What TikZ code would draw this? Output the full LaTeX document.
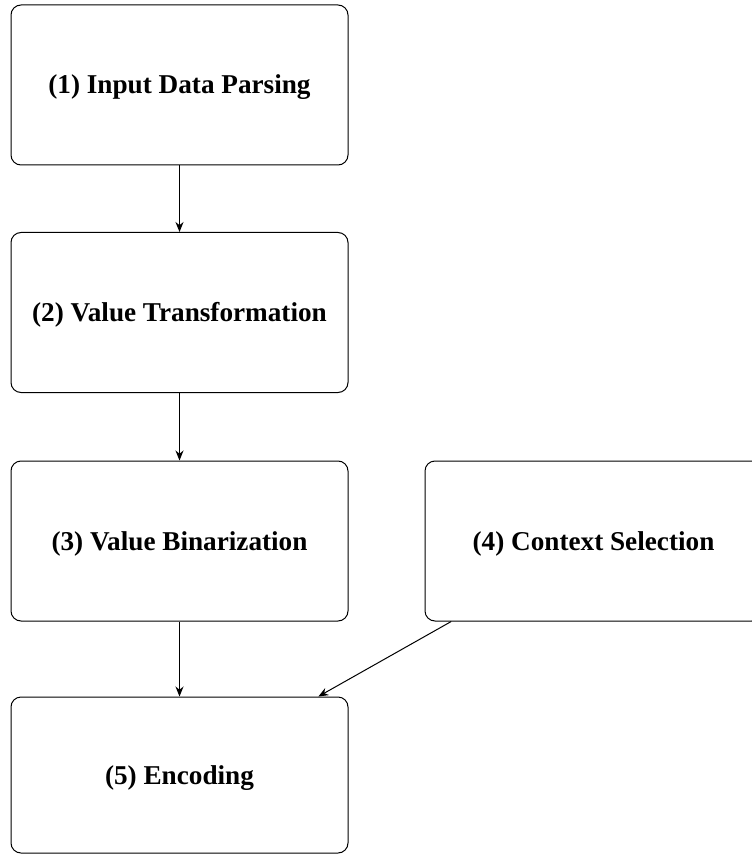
\documentclass[tikz,border=0pt]{standalone}
\usepackage{fontspec}
\setmainfont{Liberation Serif}
\usetikzlibrary{arrows.meta}
\begin{document}
\begin{tikzpicture}[x=0.5pt,y=-0.5pt,
  stagebox/.style={draw, line width=0.5pt, rounded corners=5pt, minimum width=168.5pt, minimum height=80pt, inner sep=0pt, text height=9pt, text depth=-1.5pt, font=\fontsize{13.6}{16}\selectfont\bfseries},
  flow/.style={-{Stealth[length=5pt,width=4pt]}, line width=0.5pt}]
\useasboundingbox (0,0) rectangle (751,855);
\node[stagebox] (s1) at (179.5,85) {(1) Input Data Parsing};
\node[stagebox] (s2) at (179.5,312.5) {(2) Value Transformation};
\node[stagebox] (s3) at (179.5,541) {(3) Value Binarization};
\node[stagebox] (s4) at (593.5,541) {(4) Context Selection};
\node[stagebox, minimum height=78pt] (s5) at (179.5,775) {(5) Encoding};
\draw[flow] (s1) -- (s2);
\draw[flow] (s2) -- (s3);
\draw[flow] (s3) -- (s5);
\draw[flow] (s4) -- (s5);
\end{tikzpicture}
\end{document}
